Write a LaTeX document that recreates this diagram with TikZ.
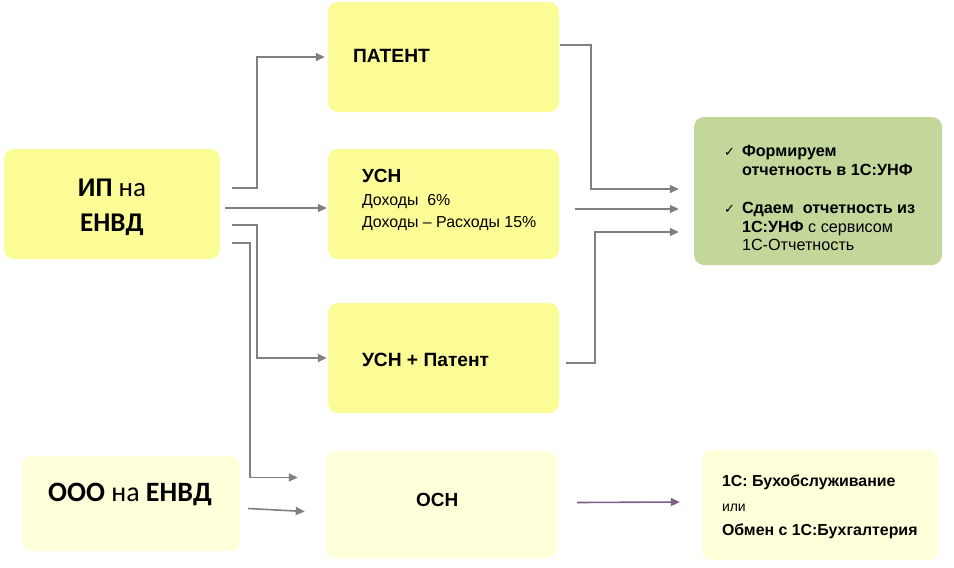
\documentclass[tikz,border=0pt]{standalone}
\usepackage{fontspec}
\setmainfont{Liberation Sans}
\newfontfamily\calib{Carlito}
\newfontfamily\symfont{DejaVu Sans}
\usetikzlibrary{arrows.meta,calc}
\definecolor{boxyellow}{RGB}{252,252,150}
\definecolor{paleyellow}{RGB}{255,255,218}
\definecolor{boxgreen}{RGB}{196,215,155}
\definecolor{linegray}{RGB}{128,128,128}
\definecolor{linepurple}{RGB}{125,96,140}
\newcommand{\chk}{\llap{{\symfont\mdseries\fontsize{13}{13}\selectfont ✓}\hspace{7pt}}}
\tikzset{
  regime/.style={fill=boxyellow,rounded corners=10pt,inner sep=0pt,
    minimum width=231pt,minimum height=110pt},
  pale/.style={fill=paleyellow,rounded corners=10pt,inner sep=0pt},
  caption/.style={anchor=west,inner sep=0pt,align=left},
  link/.style={->,draw=linegray,line width=1.6pt},
}
\begin{document}
\begin{tikzpicture}[x=1pt,y=-1pt,>={Triangle[length=9pt,width=8pt]}]
\useasboundingbox (0,0) rectangle (954,568);
% boxes
\node[regime,minimum width=216pt] (ip) at (112,204) {};
\node[pale,minimum width=218pt,minimum height=95pt] (ooo) at (131,503.5) {};
\node[regime] (patent) at (443.5,57) {};
\node[regime] (usn) at (443.5,204) {};
\node[regime] (usnp) at (443.5,358) {};
\node[pale,minimum width=231pt,minimum height=107pt] (osn) at (441.5,504.5) {};
\node[fill=boxgreen,rounded corners=10pt,minimum width=248pt,minimum height=148pt]
  (report) at (818,191) {};
\node[pale,minimum width=236pt,minimum height=110pt] (obmen) at (820,505) {};
% texts
\node[inner sep=0pt,align=center,font=\calib\fontsize{27}{35}\selectfont]
  (ip-t) at ($(ip)+(0,3)$) {\textbf{ИП} на\\\textbf{ЕНВД}};
\node[inner sep=0pt,font=\calib\fontsize{28}{30}\selectfont]
  (ooo-t) at ($(ooo)+(-1,-9)$) {\textbf{ООО} на \textbf{ЕНВД}};
\node[caption,font=\bfseries\fontsize{19.2}{22}\selectfont]
  (patent-t) at ($(patent.west)+(25,-1)$) {ПАТЕНТ};
\node[caption,font=\fontsize{15.9}{22.5}\selectfont]
  (usn-t) at ($(usn.west)+(34,-4)$)
  {{\bfseries\fontsize{19}{22.5}\selectfont УСН}\\Доходы~ 6\%\\Доходы -- Расходы 15\%};
\node[caption,font=\bfseries\fontsize{19.2}{22}\selectfont]
  (usnp-t) at ($(usnp.west)+(34,2)$) {УСН + Патент};
\node[caption,font=\bfseries\fontsize{19}{22}\selectfont]
  (osn-t) at ($(osn.west)+(90,-5)$) {ОСН};
\node[caption,font=\fontsize{16.2}{18.5}\selectfont]
  (report-t) at ($(report.west)+(48,7)$)
  {\chk\textbf{Формируем}\\\textbf{отчетность в 1С:УНФ}\\[20pt]
   \chk\textbf{Сдаем~ отчетность из}\\\textbf{1С:УНФ} с сервисом\\1С-Отчетность};
\node[caption,font=\fontsize{15.9}{24.5}\selectfont]
  (obmen-t) at ($(obmen.west)+(20,2)$)
  {\textbf{1С: Бухобслуживание}\\{\fontsize{14}{24.5}\selectfont или}\\\textbf{Обмен с 1С:Бухгалтерия}};
% connectors
\draw[link] ($(ip.east)+(12,-16)$) -- ++(25,0) |- ([xshift=-3pt]patent.west);
\draw[link] ($(ip.east)+(5,4)$) -- ($(usn.west)+(-1,4)$);
\draw[link] ($(ip.east)+(12,21)$) -- ++(25,0) |- ([xshift=-1pt]usnp.west);
\draw[link] ($(ip.east)+(12,39)$) -- ++(18,0) |- ($(osn.west)+(-28,-27)$);
\draw[link] ($(ooo.east)+(8,5)$) -- ($(osn.west)+(-21,7)$);
\draw[link] ($(patent.east)+(1,-12)$) -- ++(31,0) |- ($(report.west)+(-15,-2)$);
\draw[link] ($(usn.east)+(16,5)$) -- ($(report.west)+(-15,18)$);
\draw[link] ($(usnp.east)+(7,5)$) -- ++(29,0) |- ($(report.west)+(-15,41)$);
\draw[link,draw=linepurple] ($(osn.east)+(20,-2)$) -- ($(obmen.west)+(-22,-3)$);
\end{tikzpicture}
\end{document}
